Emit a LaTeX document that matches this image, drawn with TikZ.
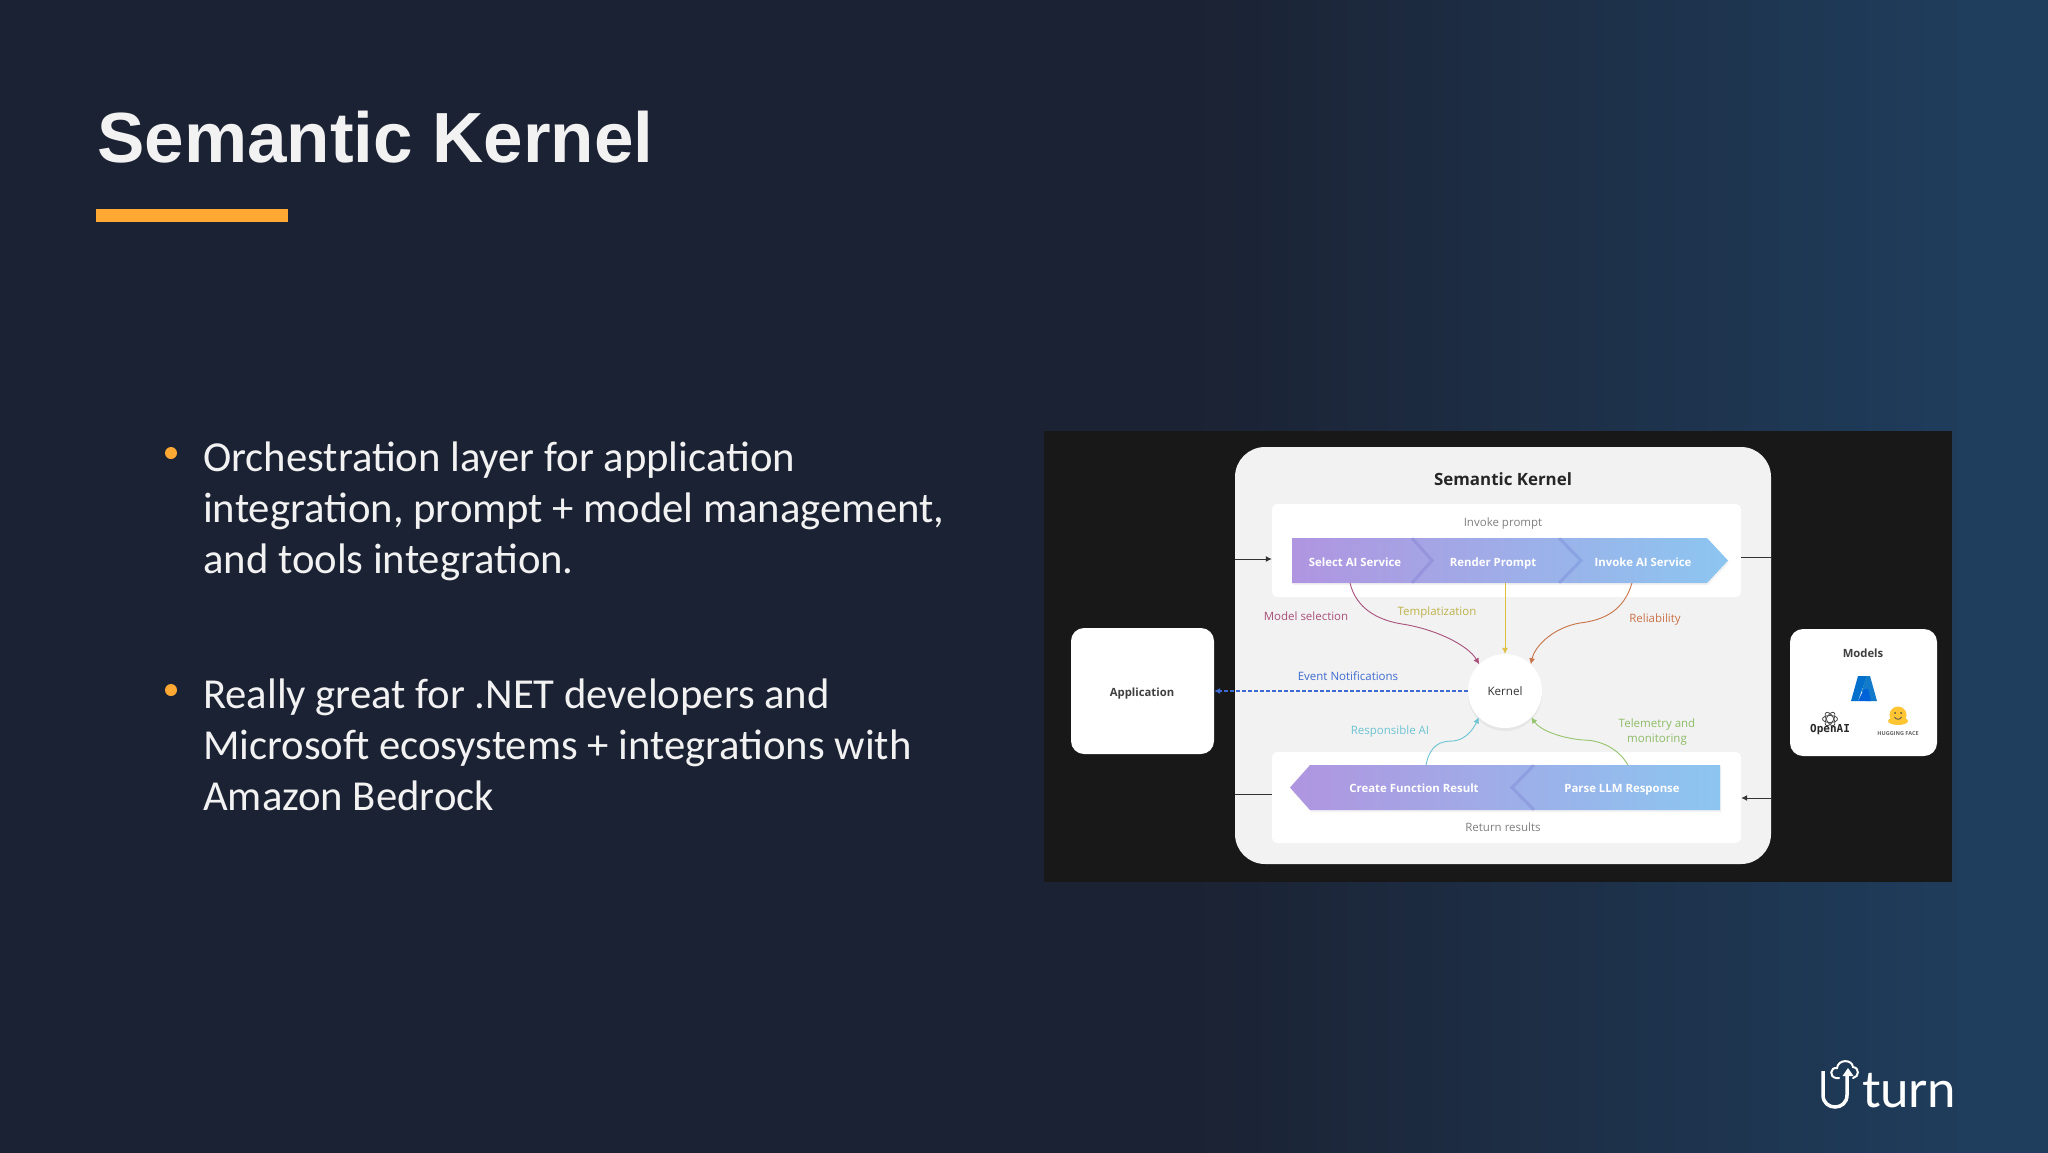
\documentclass[tikz,border=0pt]{standalone}
\usepackage{fontspec}
\usetikzlibrary{arrows.meta,shadows}
\newfontfamily\titlefont{Liberation Sans}
\newfontfamily\bodyfont{Carlito}
\newfontfamily\diagfont{Open Sans}
\newfontfamily\wordfont{Lato}
\newfontfamily\openaifont{DejaVu Sans Mono}
\definecolor{bgleft}{HTML}{1B2233}
\definecolor{bgright}{HTML}{1F3D5C}
\definecolor{accent}{HTML}{FFA833}
\definecolor{bandleft}{HTML}{B095E0}
\definecolor{bandright}{HTML}{8CC6F0}
\definecolor{panelblack}{HTML}{181818}
\definecolor{panelgray}{HTML}{F2F2F2}
\definecolor{modelcolor}{HTML}{A8507A}
\definecolor{tempcolor}{HTML}{BDB24A}
\definecolor{tempflow}{HTML}{DDBE40}
\definecolor{relcolor}{HTML}{C9734A}
\definecolor{eventcolor}{HTML}{3F6BD0}
\definecolor{respcolor}{HTML}{6CC3D2}
\definecolor{teleflow}{HTML}{96C46E}
\definecolor{telecolor}{HTML}{8DBC66}
\definecolor{hugcolor}{HTML}{FFC533}
\pgfdeclarehorizontalshading{slidebg}{100bp}{color(0bp)=(bgleft); color(25bp)=(bgleft); color(54bp)=(bgleft); color(73bp)=(bgright); color(100bp)=(bgright)}
\begin{document}
\begin{tikzpicture}[x=1pt,y=-1pt]
	\tikzset{textline/.style = {inner sep=0pt,anchor=mid,yshift=-2pt,font=\diagfont\fontsize{11.5}{15}\selectfont}}
	\tikzset{bandtext/.style = {textline,text=white,font=\diagfont\bfseries\fontsize{11.4}{15}\selectfont}}
	\tikzset{whitebox/.style = {shape=rectangle,fill=white,inner sep=0pt}}
	\tikzset{bullet/.style = {shape=circle,fill=accent,minimum size=12pt,inner sep=0pt}}
	\tikzset{bullettext/.style = {inner sep=0pt,anchor=north west,align=left,text=white!95!black,font=\bodyfont\fontsize{42.7}{51}\selectfont}}
	\tikzset{bandfill/.style = {left color=bandleft,right color=bandright,drop shadow={opacity=.1,shadow xshift=1pt,shadow yshift=-2pt}}}
	\tikzset{chevron/.style = {line width=3pt,color=blue!45!gray,opacity=.16}}
	\tikzset{flow/.style = {->,>={Latex[length=6pt,width=6pt]},line width=.9pt}}
	\tikzset{blackline/.style = {line width=1pt,color=black!80,>={Latex[length=6pt,width=6pt]}}}
	\shade[shading=slidebg] (0,0) rectangle (2048,1152);
	\useasboundingbox (0,0) rectangle (2048,1152);
	\node[inner sep=0pt,anchor=base west,text=white!95!black,font=\titlefont\bfseries\fontsize{71}{80}\selectfont] (title) at (97,162) {Semantic Kernel};
	\node[shape=rectangle,fill=accent,inner sep=0pt,minimum width=192pt,minimum height=13pt] (titlerule) at (192,215.5) {};
	\node[bullet] (dota) at (171,453) {};
	\node[bullet] (dotb) at (171,690) {};
	\node[bullettext] (texta) at (203,442) {Orchestration layer for application\\integration, prompt + model management,\\and tools integration.};
	\node[bullettext] (textb) at (203,679) {Really great for .NET developers and\\Microsoft ecosystems + integrations with\\Amazon Bedrock};
	\node[shape=rectangle,fill=panelblack,inner sep=0pt,minimum width=908pt,minimum height=451pt] (shot) at (1498,656.5) {};
	\node[shape=rectangle,fill=panelgray,rounded corners=30pt,inner sep=0pt,minimum width=536pt,minimum height=417pt] (panel) at (1503,655.5) {};
	\node[whitebox,rounded corners=5pt,minimum width=469pt,minimum height=93pt] (promptbox) at (1506.5,550.5) {};
	\node[whitebox,rounded corners=5pt,minimum width=469pt,minimum height=91pt] (resultbox) at (1506.5,797.5) {};
	\node[whitebox,rounded corners=13pt,minimum width=143pt,minimum height=126pt] (app) at (1142.5,691) {};
	\node[whitebox,rounded corners=13pt,minimum width=147pt,minimum height=127pt] (models) at (1863.5,692.5) {};
	\node[textline,text=black!75,font=\diagfont\bfseries\fontsize{11.3}{15}\selectfont] (applabel) at (1142,692) {Application};
	\node[textline,text=black!85,font=\diagfont\bfseries\fontsize{16.9}{20}\selectfont] (paneltitle) at (1503,481) {Semantic Kernel};
	\node[textline,text=black!50] (invoke) at (1503,522) {Invoke prompt};
	\node[textline,text=black!50] (return) at (1503,827) {Return results};
	\shade[bandfill] (1292,538) -- (1707,538) -- (1728,560.5) -- (1707,583) -- (1292,583) -- cycle;
	\shade[bandfill] (1290,787.5) -- (1310,765) -- (1720,765) -- (1720,810) -- (1310,810) -- cycle;
	\draw[chevron] (1412,538) -- (1432,560.5) -- (1412,583);
	\draw[chevron] (1559,538) -- (1581,560.5) -- (1559,583);
	\draw[chevron] (1534,765) -- (1512,787.5) -- (1534,810);
	\node[bandtext] (select) at (1355,562) {Select AI Service};
	\node[bandtext] (render) at (1493,562) {Render Prompt};
	\node[bandtext] (invokeai) at (1643,562) {Invoke AI Service};
	\node[bandtext] (create) at (1414,788) {Create Function Result};
	\node[bandtext] (parse) at (1622,788) {Parse LLM Response};
	\node[shape=circle,fill=white,minimum size=74pt,inner sep=0pt,drop shadow={opacity=.1,shadow xshift=0pt,shadow yshift=-3pt}] (kernel) at (1505,691) {};
	\node[textline,text=black!80,font=\diagfont\fontsize{11.6}{15}\selectfont] (kernellabel) at (1505,691) {Kernel};
	\node[textline,text=modelcolor] (modellabel) at (1306,616) {Model selection};
	\node[textline,text=tempcolor] (templabel) at (1437,611) {Templatization};
	\node[textline,text=relcolor] (rellabel) at (1655,618) {Reliability};
	\node[textline,text=eventcolor] (eventlabel) at (1348,676) {Event Notifications};
	\node[textline,text=respcolor] (resplabel) at (1390,730) {Responsible AI};
	\node[textline,anchor=center,yshift=2pt,text=telecolor,align=center] (telelabel) at (1657,732) {Telemetry and\\monitoring};
	\coordinate (modelout) at (1350,583);
	\coordinate (tempout) at (1505,583);
	\coordinate (relout) at (1632,583);
	\coordinate (respout) at (1426,765);
	\coordinate (teleout) at (1628,765);
	\draw[flow,color=modelcolor] (modelout) .. controls (1356,608) and (1377,620) .. (1402,624) .. controls (1435,629) and (1468,645) .. (kernel.134);
	\draw[flow,color=tempflow] (tempout) -- (kernel);
	\draw[flow,color=relcolor] (relout) .. controls (1624,610) and (1605,620) .. (1580,623) .. controls (1555,627) and (1535,645) .. (kernel.46);
	\draw[flow,color=eventcolor,line width=1.1pt,dash pattern=on 3.5pt off 2.5pt] (kernel) -- (app);
	\draw[flow,color=respcolor] (respout) .. controls (1430,745) and (1440,741) .. (1453,741) .. controls (1465,740) and (1473,730) .. (kernel.225);
	\draw[flow,color=teleflow] (teleout) .. controls (1618,748) and (1600,740) .. (1583,740) .. controls (1560,738) and (1540,730) .. (kernel.315);
	\coordinate (intop) at (1235,559);
	\coordinate (outtop) at (1772,557);
	\coordinate (outbot) at (1235,794);
	\coordinate (inbot) at (1772,798);
	\draw[blackline,->] (intop) -- (intop -| promptbox.west);
	\draw[blackline] (outtop) -- (outtop -| promptbox.east);
	\draw[blackline] (outbot) -- (outbot -| resultbox.west);
	\draw[blackline,->] (inbot) -- (inbot -| resultbox.east);
	\node[textline,text=black!75,font=\diagfont\bfseries\fontsize{11.3}{15}\selectfont] (modelstitle) at (1863,653) {Models};
	\fill[color=blue!45!cyan!80!black] (1858,676) -- (1867,676) -- (1858,701) -- (1851,701) -- cycle;
	\fill[color=cyan!60!blue] (1866,676) -- (1870,676) -- (1877,701) -- (1866,701) -- (1862,691) -- cycle;
	\fill[color=blue!55!cyan!85!black] (1864,689) -- (1868,689) -- (1871,701) -- (1858,701) -- cycle;
	\foreach \ang in {0,60,120}
		\draw[color=black!70,line width=.8pt,rotate around={\ang:(1830,719)}] (1830,719) ellipse (7.5pt and 3.5pt);
	\node[inner sep=0pt,text=black!85,font=\openaifont\bfseries\fontsize{11}{13}\selectfont] (openai) at (1830,730) {OpenAI};
	\fill[color=hugcolor] (1898,715) circle (8.5pt);
	\fill[color=hugcolor] (1898,721) ellipse (10pt and 4pt);
	\fill[color=black!70] (1895,713) circle (1pt) (1901,713) circle (1pt);
	\draw[color=black!70,line width=.8pt] (1894.5,717) .. controls (1896,720) and (1900,720) .. (1901.5,717);
	\node[inner sep=0pt,text=black!60,font=\diagfont\bfseries\fontsize{5.5}{7}\selectfont] (hugging) at (1898,734) {HUGGING FACE};
	\node[inner sep=0pt,anchor=base west,text=white,font=\wordfont\fontsize{51}{60}\selectfont] (uturn) at (1862,1107) {turn};
	\draw[color=white,line width=3.5pt] (1823,1071) -- (1823,1095) .. controls (1823,1111) and (1847,1111) .. (1847,1095) -- (1847,1075);
	\fill[color=white] (1848,1068) -- (1853.5,1076) -- (1842.5,1076) -- cycle;
	\draw[color=white,line width=2pt,line cap=round] (1839,1078) -- (1836,1078) .. controls (1829,1077) and (1830,1067) .. (1837,1068) .. controls (1838,1059) and (1852,1059) .. (1853,1067) .. controls (1860,1068) and (1859,1077) .. (1853,1078);
\end{tikzpicture}
\end{document}
